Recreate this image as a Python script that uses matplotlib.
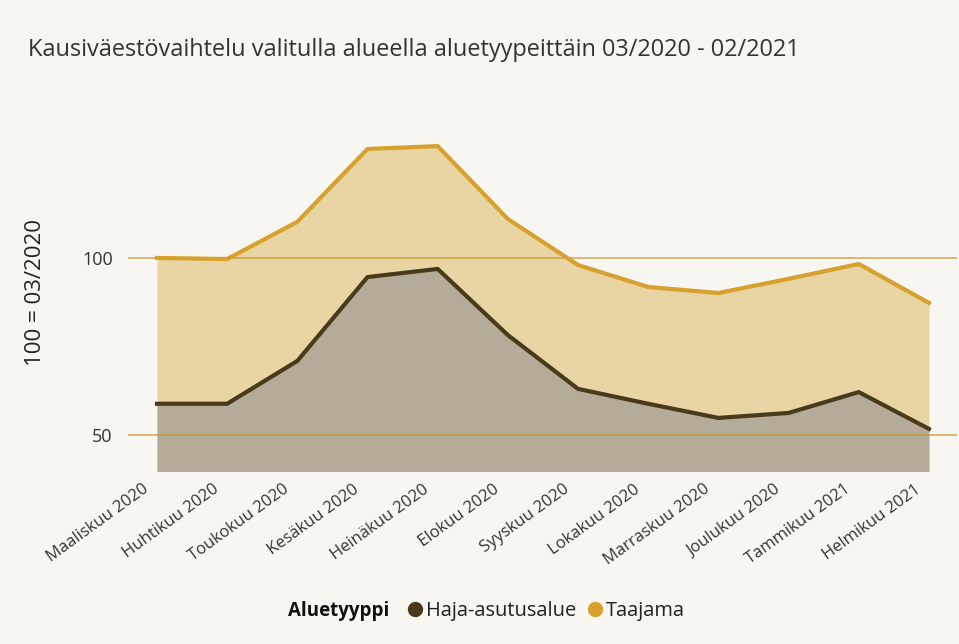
import matplotlib
matplotlib.use("Agg")
import matplotlib.pyplot as plt
from matplotlib.lines import Line2D
from matplotlib.transforms import ScaledTranslation

# data (index, 100 = 03/2020)
months = ["Maaliskuu 2020", "Huhtikuu 2020", "Toukokuu 2020", "Kesäkuu 2020",
          "Heinäkuu 2020", "Elokuu 2020", "Syyskuu 2020", "Lokakuu 2020",
          "Marraskuu 2020", "Joulukuu 2020", "Tammikuu 2021", "Helmikuu 2021"]
taajama = [100.0, 99.7, 110.2, 130.8, 131.6, 111.0, 98.0, 91.8, 90.1, 94.1, 98.3, 87.3]
haja = [58.8, 58.8, 70.9, 94.6, 96.9, 78.2, 63.0, 58.8, 54.8, 56.2, 62.1, 51.7]
yticks = [50, 100]

BG = "#F7F6F1"
TAAJ_LINE = "#D6A12C"
TAAJ_FILL = "#E9D4A3"
HAJA_LINE = "#4A3A1C"
HAJA_FILL = "#B4AC99"
GRID = "#C8952A"

plt.rcParams["font.family"] = ["Open Sans", "DejaVu Sans"]

W, H = 959, 644
fig = plt.figure(figsize=(W / 100, H / 100), dpi=100, facecolor=BG)
ax = fig.add_axes([128 / W, 1 - 471 / H, (957 - 128) / W, (471 - 98.7) / H])
ax.set_facecolor(BG)

x = list(range(len(months)))
ax.fill_between(x, 0, taajama, color=TAAJ_FILL, linewidth=0, zorder=1)
ax.fill_between(x, 0, haja, color=HAJA_FILL, linewidth=0, zorder=2)
for yv in yticks:
    ax.axhline(yv, color=GRID, linewidth=1.2, alpha=0.75, zorder=3)
ax.plot(x, taajama, color=TAAJ_LINE, linewidth=3, solid_joinstyle="round", zorder=4)
ax.plot(x, haja, color=HAJA_LINE, linewidth=3, solid_joinstyle="round", zorder=5)

ax.set_xlim(-0.413, 11.4)
ax.set_ylim(39.8, 145)
for s in ax.spines.values():
    s.set_visible(False)

ax.set_yticks(yticks)
ax.set_yticklabels([str(v) for v in yticks], fontsize=13, color="#333333")
ax.tick_params(axis="y", length=0, pad=11)
ax.set_xticks(x)
ax.set_xticklabels(months, fontsize=12, color="#333333", rotation=36,
                   ha="right", va="center", rotation_mode="anchor")
ax.tick_params(axis="x", length=0, pad=12)
shift = ScaledTranslation(-10 / 100, 0, fig.dpi_scale_trans)
for lbl in ax.get_xticklabels():
    lbl.set_transform(lbl.get_transform() + shift)

fig.text(28 / W, 1 - 50 / H, "Kausiväestövaihtelu valitulla alueella aluetyypeittäin 03/2020 - 02/2021",
         fontsize=16.9, color="#333333", va="center", ha="left")
fig.text(36 / W, 1 - 292 / H, "100 = 03/2020", fontsize=16, color="#222222",
         rotation=90, va="center", ha="center")

# legend
fig.text(288 / W, 1 - 611 / H, "Aluetyyppi", fontsize=13.5, fontweight="bold",
         color="#111111", va="center", ha="left")
handles = [Line2D([], [], marker="o", linestyle="none", markersize=10, color=HAJA_LINE),
           Line2D([], [], marker="o", linestyle="none", markersize=10, color=TAAJ_LINE)]
fig.legend(handles, ["Haja-asutusalue", "Taajama"], loc="center left",
           bbox_to_anchor=(405 / W, 1 - 611 / H), ncol=2, frameon=False,
           fontsize=14.4, handletextpad=0.05, columnspacing=0.45, handlelength=1.0,
           borderaxespad=0, borderpad=0, labelcolor="#222222")

fig.savefig("out.png", dpi=100, facecolor=BG)
